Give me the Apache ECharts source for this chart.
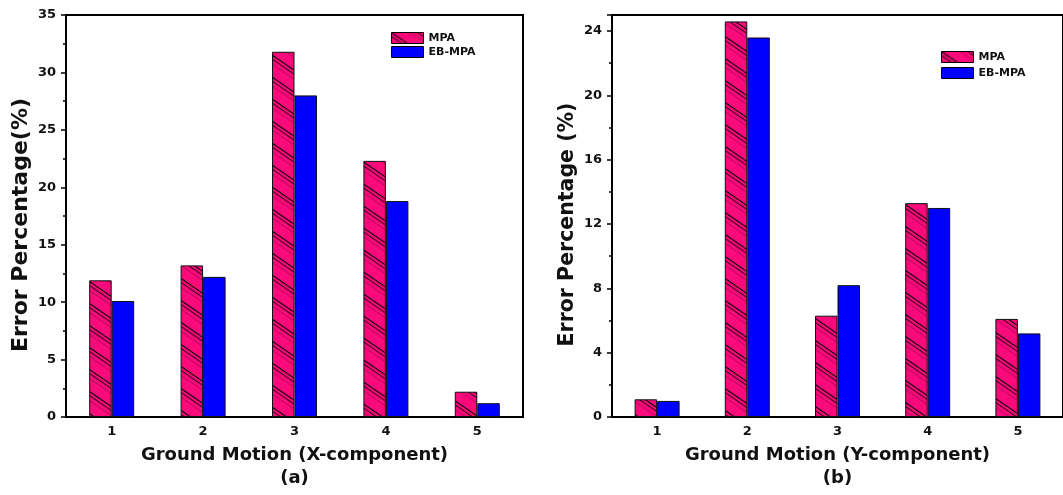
<!DOCTYPE html>
<html>
<head>
<meta charset="utf-8">
<script src="https://cdn.jsdelivr.net/npm/echarts@6/dist/echarts.min.js"></script>
<style>
html,body{margin:0;padding:0;background:#fff;}
#chart{width:1063px;height:495px;}
</style>
</head>
<body>
<div id="chart"></div>
<script>
// ---- data ----
const categories = ['1', '2', '3', '4', '5'];
const seriesNames = ['MPA', 'EB-MPA'];
const mpaX = [11.9, 13.2, 31.8, 22.3, 2.2];
const ebMpaX = [10.1, 12.2, 28.0, 18.8, 1.2];
const mpaY = [1.1, 24.6, 6.3, 13.3, 6.1];
const ebMpaY = [1.0, 23.6, 8.2, 13.0, 5.2];
const xTitleA = 'Ground Motion (X-component)\n(a)';
const xTitleB = 'Ground Motion (Y-component)\n(b)';
const yTitleA = 'Error Percentage(%)';
const yTitleB = 'Error Percentage (%)';

// ---- hatch pattern ----
function makeHatch() {
  const w = 32, h = 22;
  const c = document.createElement('canvas');
  c.width = w; c.height = h;
  const ctx = c.getContext('2d');
  ctx.fillStyle = '#FA0A7A';
  ctx.fillRect(0, 0, w, h);
  const lines = [
    { d: 0, col: 'rgba(0,0,0,0.9)' },
    { d: 4, col: 'rgba(20,0,10,0.75)' },
    { d: 9, col: 'rgba(60,0,30,0.25)' }
  ];
  for (let k = -1; k <= 1; k++) {
    const oy = k * h;
    lines.forEach(l => {
      ctx.strokeStyle = l.col;
      ctx.lineWidth = 1.1;
      ctx.beginPath();
      ctx.moveTo(-w, -h + l.d + oy); ctx.lineTo(2 * w, 2 * h + l.d + oy); ctx.stroke();
    });
  }
  return c;
}
const hatch = { image: makeHatch(), repeat: 'repeat' };

const FONT = 'DejaVu Sans';
const black = '#000';

function xAxisDef(gridIndex, name) {
  return {
    type: 'category', gridIndex, data: categories,
    name, nameLocation: 'middle', nameGap: 27,
    nameTextStyle: { fontFamily: FONT, fontWeight: 'bold', fontSize: 18, lineHeight: 23, color: '#111' },
    axisLine: { lineStyle: { color: black, width: 2 } },
    axisTick: { alignWithLabel: true, length: 4, lineStyle: { color: black, width: 2 } },
    axisLabel: { fontFamily: FONT, fontWeight: 'bold', fontSize: 13, color: '#111', margin: 8 },
    splitLine: { show: false }
  };
}
function yAxisDef(gridIndex, name, max, interval, padR) {
  return {
    type: 'value', gridIndex, min: 0, max, interval,
    name, nameLocation: 'middle', nameGap: 34, nameRotate: 90,
    nameTextStyle: { fontFamily: FONT, fontWeight: 'bold', fontSize: gridIndex === 0 ? 22 : 20.5, color: '#111', padding: [0, padR, 0, 0] },
    axisLine: { show: true, lineStyle: { color: black, width: 2 } },
    axisTick: { show: true, length: 5, lineStyle: { color: black, width: 1.5 } },
    minorTick: { show: true, splitNumber: 2, length: 3, lineStyle: { color: black, width: 1.5 } },
    axisLabel: { fontFamily: FONT, fontWeight: 'bold', fontSize: 13, color: '#111', margin: 10, showMaxLabel: gridIndex === 0 },
    splitLine: { show: false }
  };
}
function legendDef(left, top, gap) {
  return {
    orient: 'vertical', left, top, itemWidth: 32, itemHeight: 11, itemGap: gap,
    icon: 'rect',
    data: seriesNames,
    textStyle: { fontFamily: FONT, fontWeight: 'bold', fontSize: 11, lineHeight: 11, color: '#111' },
    itemStyle: { borderColor: '#000', borderWidth: 1 }
  };
}
function barDef(name, data, idx, isMpa) {
  return {
    type: 'bar', name, data, xAxisIndex: idx, yAxisIndex: idx,
    barWidth: 22.5, barGap: '0%',
    itemStyle: { color: isMpa ? hatch : '#0000FF', borderColor: '#111', borderWidth: 1 },
    emphasis: { disabled: true }
  };
}

const chart = echarts.init(document.getElementById('chart'), null, { renderer: 'canvas' });
chart.setOption({
  animation: false,
  backgroundColor: '#fff',
  grid: [
    { left: 66, top: 15, width: 457, height: 408, show: true, borderColor: black, borderWidth: 2, backgroundColor: 'transparent' },
    { left: 612, top: 15, width: 456, height: 408, show: true, borderColor: black, borderWidth: 2, backgroundColor: 'transparent' }
  ],
  legend: [legendDef(386, 27, 2), legendDef(936, 46, 4)],
  xAxis: [xAxisDef(0, xTitleA), xAxisDef(1, xTitleB)],
  yAxis: [yAxisDef(0, yTitleA, 35, 5, 18), yAxisDef(1, yTitleB, 25, 4, 17)],
  series: [
    barDef(seriesNames[0], mpaX, 0, true),
    barDef(seriesNames[1], ebMpaX, 0, false),
    barDef(seriesNames[0], mpaY, 1, true),
    barDef(seriesNames[1], ebMpaY, 1, false)
  ]
});
</script>
</body>
</html>
